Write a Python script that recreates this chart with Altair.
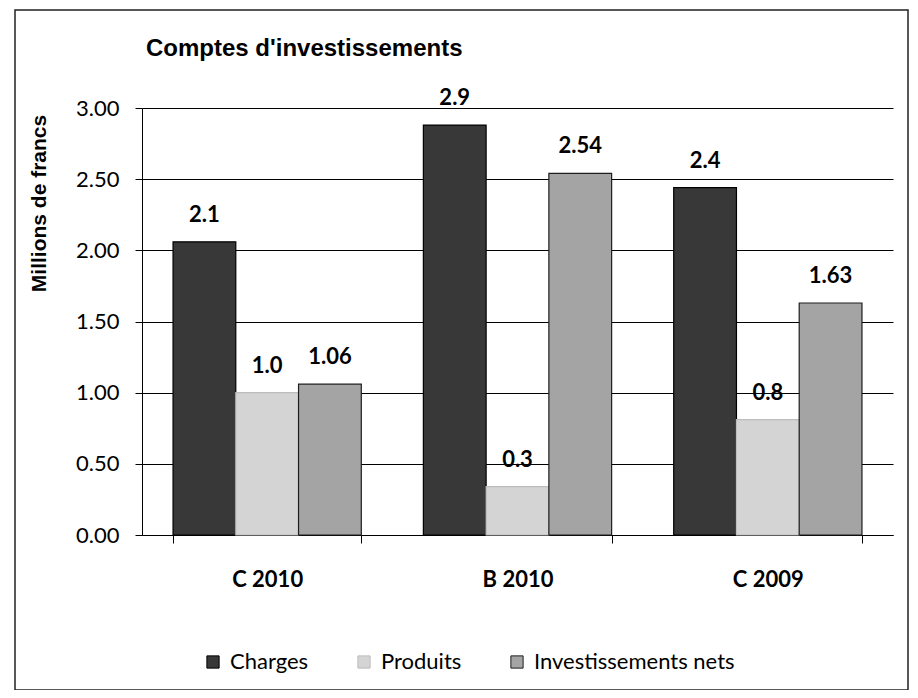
import altair as alt
import pandas as pd

groups = ["C 2010", "B 2010", "C 2009"]
series = ["Charges", "Produits", "Investissements nets"]
charges = [2.06, 2.88, 2.44]
produits = [1.00, 0.34, 0.81]
nets = [1.06, 2.54, 1.63]
charges_lbl = ["2.1", "2.9", "2.4"]
produits_lbl = ["1.0", "0.3", "0.8"]
nets_lbl = ["1.06", "2.54", "1.63"]
colors = ["#383838", "#d4d4d4", "#a4a4a4"]
strokes = ["#000000", "#bdbdbd", "#1e1e1e"]

rows = []
for vals, lbls, s in [(charges, charges_lbl, series[0]), (produits, produits_lbl, series[1]), (nets, nets_lbl, series[2])]:
    for g, v, l in zip(groups, vals, lbls):
        rows.append({"group": g, "series": s, "value": v, "label": l})
df = pd.DataFrame(rows)

FONT = "Lato"
BOLDSANS = "Liberation Sans"

x = alt.X("group:N", sort=groups, title=None,
          scale=alt.Scale(paddingInner=0.248, paddingOuter=0.124),
          axis=alt.Axis(labelFont=FONT, labelFontWeight="bold", labelFontSize=22,
                        labelColor="black", labelPadding=26, ticks=True,
                        tickBand="extent", tickSize=8, tickColor="black",
                        domainColor="black", labelAngle=0))
xo = alt.XOffset("series:N", sort=series)
y = alt.Y("value:Q", title="Millions de francs",
          scale=alt.Scale(domain=[0, 3]),
          axis=alt.Axis(values=[0, 0.5, 1, 1.5, 2, 2.5, 3], format=".2f",
                        labelFont=FONT, labelFontSize=22, labelColor="black",
                        labelPadding=16, tickSize=7, tickColor="black",
                        domainColor="black", gridColor="black", gridWidth=1,
                        titleFont=BOLDSANS, titleFontWeight="bold",
                        titleFontSize=21, titleColor="black", titleX=-103, titleY=95,
                        titleAngle=-90, titleAlign="center", titleBaseline="middle"))

bars = alt.Chart(df).mark_bar(strokeWidth=1.2).encode(
    x=x, xOffset=xo, y=y,
    color=alt.Color("series:N", sort=series,
                    scale=alt.Scale(domain=series, range=colors),
                    legend=alt.Legend(title=None, orient="none", direction="horizontal",
                                      legendX=60, legendY=543, symbolType="square",
                                      symbolSize=150, symbolStrokeColor="#222",
                                      symbolStrokeWidth=1, labelLimit=0,
                                      labelFont=FONT, labelFontSize=22, labelColor="black",
                                      columnPadding=44, labelOffset=6)),
    stroke=alt.Stroke("series:N", sort=series,
                      scale=alt.Scale(domain=series, range=strokes), legend=None),
)

texts = alt.Chart(df).mark_text(font=FONT, fontWeight="bold", fontSize=22,
                                color="black", baseline="alphabetic", dy=-20).encode(
    x=alt.X("group:N", sort=groups), xOffset=xo, y=alt.Y("value:Q"),
    text="label:N",
)

frame = alt.Chart(alt.Data(values=[{}])).mark_rect(
    fillOpacity=0, stroke="#222", strokeWidth=1.5).encode(
    x=alt.value(-127), x2=alt.value(766), y=alt.value(-98), y2=alt.value(582))

chart = alt.layer(bars, texts, frame).properties(
    width=751, height=427,
    autosize=alt.AutoSizeParams(type="none"),
    padding={"left": 134, "top": 100, "right": 17, "bottom": 155},
    title=alt.TitleParams("Comptes d'investissements", anchor="start", frame="group",
                          dx=4, dy=71, offset=0, baseline="alphabetic",
                          font=BOLDSANS, fontSize=24, fontWeight="bold", color="black"),
).configure_view(stroke=None).configure_axisX(grid=False)

chart.save("out.html", embed_options={"renderer": "svg", "actions": False})
